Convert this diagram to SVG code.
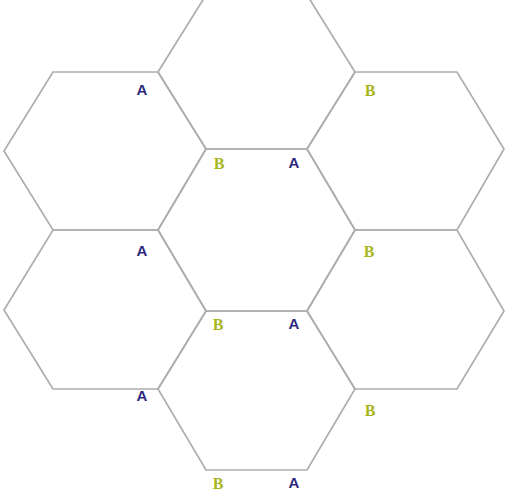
<svg xmlns="http://www.w3.org/2000/svg" width="505" height="501" viewBox="0 0 505 501">
  <style>
    .hex { fill: none; stroke: #adadad; stroke-width: 1.7; stroke-linejoin: miter; }
    .a { font-family: "Liberation Sans", Arial, sans-serif; font-weight: bold; font-size: 15px; fill: #2e2b7c; text-anchor: middle; }
    .b { font-family: "Liberation Serif", "Times New Roman", serif; font-weight: bold; font-size: 16px; fill: #a7b522; text-anchor: middle; }
  </style>
  <rect width="505" height="501" fill="#ffffff"/>
  <g id="hex-top">
    <polygon class="hex" points="158,72 206,-5 307,-5 355,72 307,149 206,149"/>
  </g>
  <g id="hex-center">
    <polygon class="hex" points="158,230 206,149 307,149 355,230 307,311 206,311"/>
  </g>
  <g id="hex-bottom">
    <polygon class="hex" points="158,389 206,311 307,311 355,389 307,470 206,470"/>
  </g>
  <g id="hex-left-top">
    <polygon class="hex" points="4,151 53,72 158,72 206,149 158,230 53,230"/>
  </g>
  <g id="hex-left-bottom">
    <polygon class="hex" points="4,310 53,230 158,230 206,311 158,389 53,389"/>
  </g>
  <g id="hex-right-top">
    <polygon class="hex" points="307,149 355,72 457,72 504,149 457,230 355,230"/>
  </g>
  <g id="hex-right-bottom">
    <polygon class="hex" points="307,311 355,230 457,230 504,311 457,389 355,389"/>
  </g>
  <g id="connectors"></g>
  <g id="labels">
    <text class="a" x="142" y="95">A</text>
    <text class="b" x="370" y="96">B</text>
    <text class="b" x="219" y="169">B</text>
    <text class="a" x="294" y="168">A</text>
    <text class="a" x="142" y="256">A</text>
    <text class="b" x="369" y="257">B</text>
    <text class="b" x="218" y="330">B</text>
    <text class="a" x="294" y="329">A</text>
    <text class="a" x="142" y="401">A</text>
    <text class="b" x="370" y="416">B</text>
    <text class="b" x="218" y="489">B</text>
    <text class="a" x="294" y="488">A</text>
  </g>
</svg>
